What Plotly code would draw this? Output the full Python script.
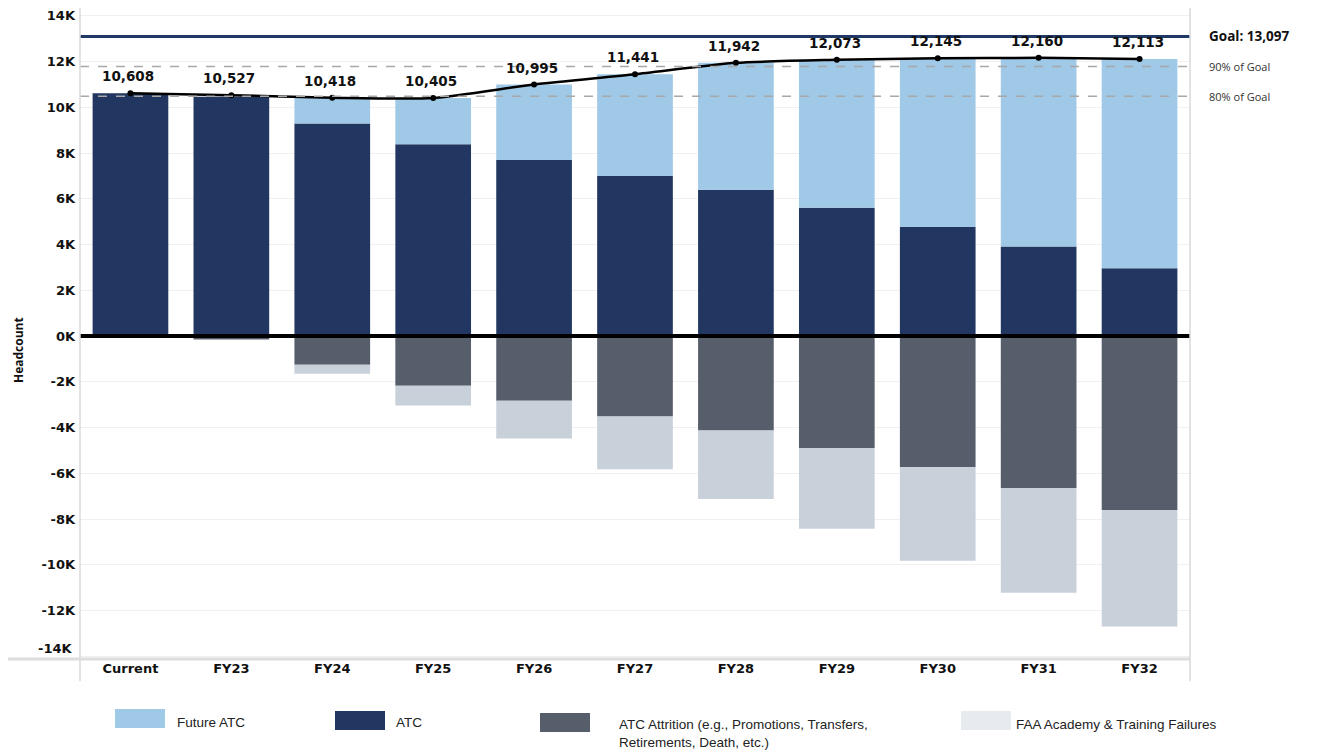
import plotly.graph_objects as go

categories = ["Current", "FY23", "FY24", "FY25", "FY26", "FY27", "FY28", "FY29", "FY30", "FY31", "FY32"]
atc = [10608, 10460, 9290, 8380, 7700, 7000, 6390, 5610, 4780, 3910, 2960]
future_atc = [0, 0, 1128, 2025, 3295, 4441, 5552, 6463, 7365, 8250, 9153]
attrition = [0, -150, -1260, -2170, -2830, -3520, -4130, -4910, -5740, -6650, -7610]
failures = [0, 0, -390, -870, -1650, -2310, -3000, -3520, -4090, -4570, -5090]
total = [10608, 10527, 10418, 10405, 10995, 11441, 11942, 12073, 12145, 12160, 12113]
goal = 13097
y_ticks = [14000, 12000, 10000, 8000, 6000, 4000, 2000, 0, -2000, -4000, -6000, -8000, -10000, -12000, -14000]
y_tick_text = ["14K", "12K", "10K", "8K", "6K", "4K", "2K", "0K", "-2K", "-4K", "-6K", "-8K", "-10K", "-12K", ""]
bottom_tick_text = "-14K"

C_FUT = "#9FC9E7"
C_ATC = "#213761"
C_ATT = "#575E6B"
C_FAIL = "#C8D0DA"
C_FAIL_LEG = "#E7EBEF"

BOLD = "DejaVu Sans"
LEG_FONT = "Liberation Sans, Arial"

fig = go.Figure()
fig.add_bar(x=categories, y=atc, marker_color=C_ATC, name="ATC", marker_line_width=0)
fig.add_bar(x=categories, y=future_atc, marker_color=C_FUT, name="Future ATC", marker_line_width=0)
fig.add_bar(x=categories, y=attrition, marker_color=C_ATT,
            name="ATC Attrition (e.g., Promotions, Transfers, Retirements, Death, etc.)", marker_line_width=0)
fig.add_bar(x=categories, y=failures, marker_color=C_FAIL, name="FAA Academy & Training Failures",
            marker_line_width=0)
fig.add_scatter(x=categories, y=total, mode="lines+markers", line=dict(color="black", width=2.5,
                shape="spline", smoothing=0.6), marker=dict(size=6, color="black"), name="Total")

annotations = []
for c, v in zip(categories, total):
    annotations.append(dict(x=c, y=v, text=f"{v:,}", showarrow=False, yshift=17, xshift=-2,
                            font=dict(family=BOLD, size=13.5, color="#111", weight="bold")))

shapes = []
# reference lines
shapes.append(dict(type="line", xref="paper", yref="y", x0=0, x1=1, y0=goal * 0.9, y1=goal * 0.9,
                   line=dict(color="#A8A8A8", width=1.5, dash="dash"), layer="above"))
shapes.append(dict(type="line", xref="paper", yref="y", x0=0, x1=1, y0=goal * 0.8, y1=goal * 0.8,
                   line=dict(color="#A8A8A8", width=1.5, dash="dash"), layer="above"))
shapes.append(dict(type="line", xref="paper", yref="y", x0=0, x1=1, y0=goal, y1=goal,
                   line=dict(color="#1F3864", width=3), layer="above"))
shapes.append(dict(type="line", xref="paper", yref="y", x0=0, x1=1, y0=0, y1=0,
                   line=dict(color="black", width=4), layer="above"))
# frame lines
shapes.append(dict(type="line", xref="paper", yref="paper", x0=0, x1=0, y0=-0.034, y1=1,
                   line=dict(color="#D9D9D9", width=1.5)))
shapes.append(dict(type="line", xref="paper", yref="paper", x0=1, x1=1, y0=-0.034, y1=1,
                   line=dict(color="#D9D9D9", width=1.5)))
shapes.append(dict(type="line", xref="paper", yref="paper", x0=-0.065, x1=1, y0=0, y1=0,
                   line=dict(color="#DDDDDD", width=3)))

annotations.append(dict(xref="paper", yref="y", x=1.015, y=goal, text="Goal: 13,097", showarrow=False,
                        xanchor="left", font=dict(family="Open Sans", size=13.5, color="#111", weight="bold")))
annotations.append(dict(xref="paper", yref="y", x=1.015, y=goal * 0.9, text="90% of Goal", showarrow=False,
                        xanchor="left", font=dict(family="Open Sans", size=11, color="#333")))
annotations.append(dict(xref="paper", yref="y", x=1.015, y=goal * 0.8, text="80% of Goal", showarrow=False,
                        xanchor="left", font=dict(family="Open Sans", size=11, color="#333")))
annotations.append(dict(xref="paper", yref="y", x=0, y=y_ticks[-1], text=bottom_tick_text, showarrow=False,
                        xanchor="right", xshift=-6, yshift=8,
                        font=dict(family=BOLD, size=13, color="#111", weight="bold")))


# custom legend (screen pixel -> paper)
def px_x(p):
    return (p - 80) / 1110.0


def px_y(p):
    return (659 - p) / 651.0


legend_items = [
    (115, 165, 709, 728, C_FUT, 175, 722, "Future ATC"),
    (335, 385, 711, 730, C_ATC, 394, 722, "ATC"),
    (540, 590, 713, 732, C_ATT, 617, 733, "ATC Attrition (e.g., Promotions, Transfers,<br>Retirements, Death, etc.)"),
    (961, 1011, 711, 730, C_FAIL_LEG, 1014, 724, "FAA Academy & Training Failures"),
]
for x0, x1, y0, y1, col, tx, ty, txt in legend_items:
    shapes.append(dict(type="rect", xref="paper", yref="paper", x0=px_x(x0), x1=px_x(x1),
                       y0=px_y(y0), y1=px_y(y1), fillcolor=col, line=dict(width=0)))
    annotations.append(dict(xref="paper", yref="paper", x=px_x(tx), y=px_y(ty), text=txt, showarrow=False,
                            xanchor="left", yanchor="middle", align="left",
                            font=dict(family=LEG_FONT, size=13.5, color="#222")))

annotations.append(dict(xref="paper", yref="paper", x=px_x(19), y=px_y(350), text="Headcount",
                        showarrow=False, textangle=-90, xanchor="center", yanchor="middle",
                        font=dict(family="Open Sans", size=12, color="#111", weight="bold")))

# page body has an 8px margin: figure starts at screen (8, 8)
fig.update_layout(
    width=1313, height=744,
    margin=dict(l=72, r=131, t=0, b=93),
    barmode="relative", bargap=0.25,
    plot_bgcolor="white", paper_bgcolor="white",
    showlegend=False,
    shapes=shapes, annotations=annotations,
    xaxis=dict(range=[-0.5, len(categories) - 0.5], showgrid=False, showline=False, ticks="",
               tickfont=dict(family=BOLD, size=13, color="#111", weight="bold"), tickangle=0),
    yaxis=dict(range=[-14120, 14340], tickvals=y_ticks, ticktext=y_tick_text,
               showgrid=True, gridcolor="#F0F0F0", gridwidth=1, zeroline=False, showline=False,
               tickfont=dict(family=BOLD, size=13, color="#111", weight="bold"), ticklabelstandoff=4),
)

fig.write_html("out.html")
